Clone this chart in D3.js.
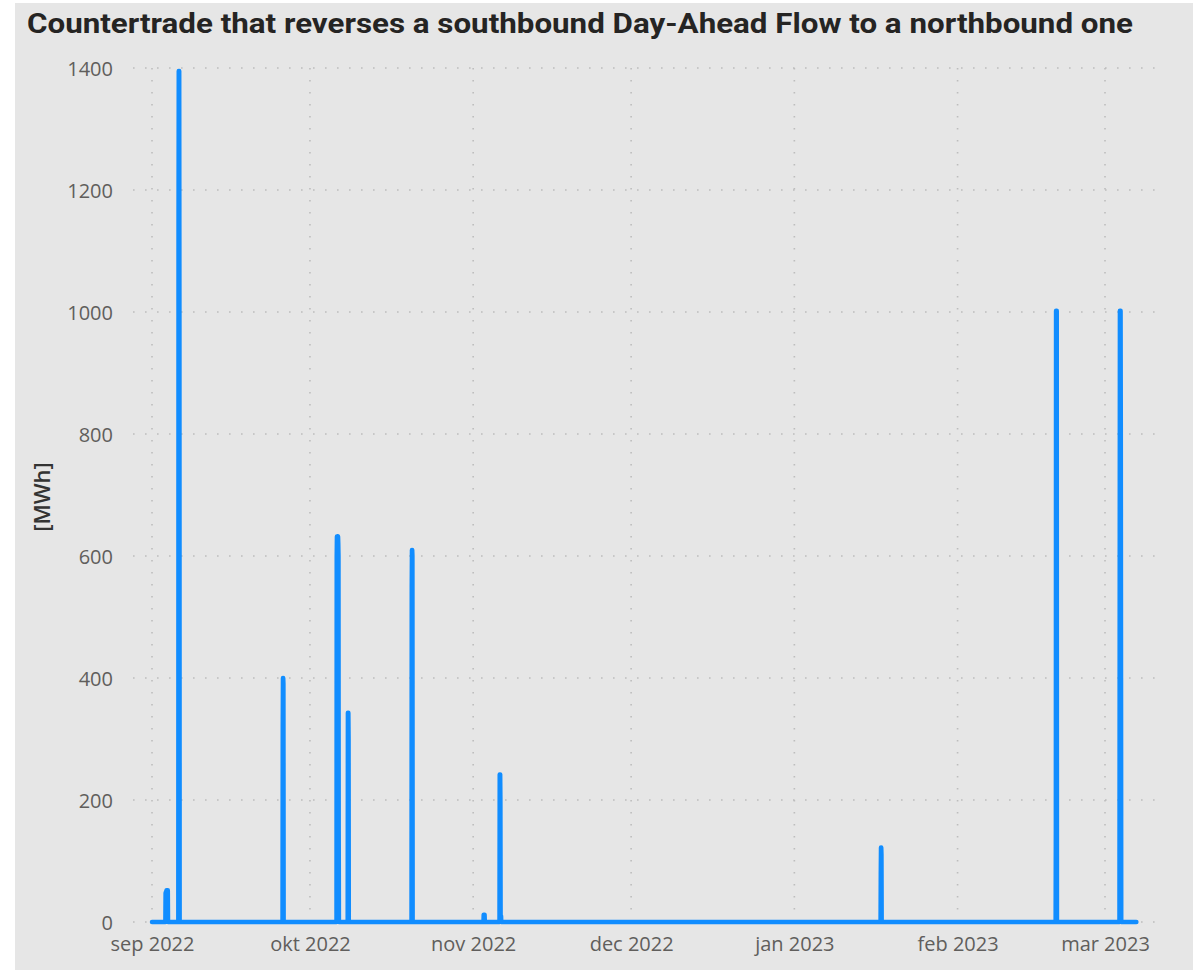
<!DOCTYPE html>
<html>
<head>
<meta charset="utf-8">
<script src="https://cdn.jsdelivr.net/npm/d3@7"></script>
<style>
  html, body { margin: 0; padding: 0; background: #ffffff; }
  svg { display: block; }
</style>
</head>
<body>
<svg id="chart" width="1193" height="970"></svg>
<script>
// ---- data ----
const titleText = "Countertrade that reverses a southbound Day-Ahead Flow to a northbound one";
const yLabel = "[MWh]";
const seriesStart = "2022-09-01T00:00";
const seriesEnd = "2023-03-06T23:00";
// each spike: first hour, then consecutive hourly values (MWh)
const spikeStarts = [
  "2022-09-03T14:00", "2022-09-06T01:00", "2022-09-25T20:00", "2022-10-06T02:00",
  "2022-10-08T05:00", "2022-10-20T08:00", "2022-11-03T00:00", "2022-11-06T01:00",
  "2023-01-17T10:00", "2023-02-19T16:00", "2023-03-03T19:00"
];
const spikeValues = [
  [48, 48, 48, 50, 52, 52, 52, 52, 52, 52, 52],
  [1150, 1395, 1395, 1395, 1000],
  [320, 400, 400, 390],
  [600, 632, 632, 632, 620, 610, 632, 620, 600, 150],
  [343, 343, 343, 300],
  [550, 610, 610, 600],
  [12, 12, 12, 12, 12],
  [242, 242, 242, 200, 10, 10, 10],
  [80, 122, 122, 110],
  [150, 1002, 1002, 1002, 1002],
  [520, 1002, 1002, 1002, 1002, 800, 400]
];
const yTicks = [0, 200, 400, 600, 800, 1000, 1200, 1400];
const monthTicks = ["2022-09-01", "2022-10-01", "2022-11-01", "2022-12-01", "2023-01-01", "2023-02-01", "2023-03-01"];
const monthLabels = ["sep 2022", "okt 2022", "nov 2022", "dec 2022", "jan 2023", "feb 2023", "mar 2023"];

// ---- build series ----
const parse = d3.timeParse("%Y-%m-%dT%H:%M");
const parseDay = d3.timeParse("%Y-%m-%d");
const HOUR = 3600 * 1000;
const points = [];
points.push({t: parse(seriesStart), v: 0});
spikeStarts.forEach((s, i) => {
  const t0 = parse(s).getTime();
  points.push({t: new Date(t0 - HOUR), v: 0});
  spikeValues[i].forEach((v, k) => points.push({t: new Date(t0 + k * HOUR), v}));
  points.push({t: new Date(t0 + spikeValues[i].length * HOUR), v: 0});
});
points.push({t: parse(seriesEnd), v: 0});

// ---- layout ----
const svg = d3.select("#chart");
svg.append("rect").attr("x", 15).attr("y", 3).attr("width", 1178).attr("height", 967).attr("fill", "#e6e6e6");

const x0 = 152, x1 = 1105;
const x = d3.scaleTime()
  .domain([parseDay(monthTicks[0]), parseDay(monthTicks[monthTicks.length - 1])])
  .range([x0, x1]);
const y = d3.scaleLinear().domain([0, 1400]).range([922, 68]);

const gridColor = "#bdbdbd";
// horizontal grid
svg.append("g").selectAll("line").data(yTicks).join("line")
  .attr("x1", 133).attr("x2", 1156)
  .attr("y1", d => y(d)).attr("y2", d => y(d))
  .attr("stroke", gridColor).attr("stroke-width", 1.6)
  .attr("stroke-dasharray", "1.6,10.4");
// vertical grid
svg.append("g").selectAll("line").data(monthTicks.map(parseDay)).join("line")
  .attr("x1", d => x(d)).attr("x2", d => x(d))
  .attr("y1", y(1400)).attr("y2", y(0))
  .attr("stroke", gridColor).attr("stroke-width", 1.6)
  .attr("stroke-dasharray", "1.6,10.4");

// y axis (labels only)
const yAxis = d3.axisLeft(y).tickValues(yTicks).tickSize(0).tickPadding(0).tickFormat(d3.format("d"));
const gy = svg.append("g").attr("transform", "translate(113,1)").call(yAxis);
gy.select(".domain").remove();
gy.selectAll("text").attr("font-family", "'Open Sans', 'Noto Sans', sans-serif")
  .attr("font-size", 20).attr("fill", "#605E5C");

// x axis (labels only)
const xAxis = d3.axisBottom(x).tickValues(monthTicks.map(parseDay)).tickSize(0).tickPadding(0)
  .tickFormat((d, i) => monthLabels[i]);
const gx = svg.append("g").attr("transform", "translate(0,937)").call(xAxis);
gx.select(".domain").remove();
gx.selectAll("text").attr("font-family", "'Open Sans', 'Noto Sans', sans-serif")
  .attr("font-size", 20).attr("fill", "#605E5C");

// line
const line = d3.line().x(d => x(d.t)).y(d => y(d.v));
svg.append("path").datum(points)
  .attr("d", line)
  .attr("fill", "none")
  .attr("stroke", "#118DFF")
  .attr("stroke-width", 4.5)
  .attr("stroke-linejoin", "round")
  .attr("stroke-linecap", "round");

// title
svg.append("text").attr("x", 27).attr("y", 33)
  .attr("font-family", "Roboto, 'Noto Sans', sans-serif").attr("font-weight", "bold")
  .attr("font-size", 28).attr("fill", "#252423")
  .attr("textLength", 1106).attr("lengthAdjust", "spacingAndGlyphs")
  .text(titleText);

// y label
svg.append("text")
  .attr("transform", "translate(50,497) rotate(-90)")
  .attr("text-anchor", "middle")
  .attr("font-family", "'Open Sans', 'Noto Sans', sans-serif").attr("font-weight", 600)
  .attr("font-size", 22).attr("fill", "#333333")
  .text(yLabel);
</script>
</body>
</html>
